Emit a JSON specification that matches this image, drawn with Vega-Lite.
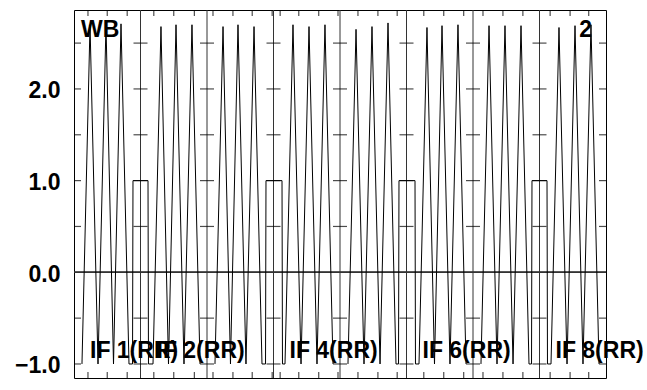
{
  "$schema": "https://vega.github.io/schema/vega-lite/v6.json",
  "width": 532,
  "height": 368,
  "autosize": "none",
  "padding": {"left": 74, "top": 10, "right": 41, "bottom": 12},
  "background": "white",
  "config": {"view": {"stroke": "black", "strokeWidth": 1}, "font": "Liberation Sans"},
  "resolve": {"axis": {"x": "independent", "y": "independent"}},
  "datasets": {
    "signal": [
      {"pair": 1, "u": 0.120, "v": -1}, {"pair": 1, "u": 0.241, "v": 2.70}, {"pair": 1, "u": 0.361, "v": -1}, {"pair": 1, "u": 0.481, "v": 2.70}, {"pair": 1, "u": 0.594, "v": -1}, {"pair": 1, "u": 0.707, "v": 2.71}, {"pair": 1, "u": 0.827, "v": -1}, {"pair": 1, "u": 0.880, "v": -1}, {"pair": 1, "u": 0.887, "v": 1}, {"pair": 1, "u": 1.113, "v": 1}, {"pair": 1, "u": 1.120, "v": -1}, {"pair": 1, "u": 1.188, "v": -1}, {"pair": 1, "u": 1.308, "v": 2.68}, {"pair": 1, "u": 1.421, "v": -1}, {"pair": 1, "u": 1.534, "v": 2.70}, {"pair": 1, "u": 1.654, "v": -1}, {"pair": 1, "u": 1.774, "v": 2.70}, {"pair": 1, "u": 1.895, "v": -1},
      {"pair": 2, "u": 2.120, "v": -1}, {"pair": 2, "u": 2.241, "v": 2.68}, {"pair": 2, "u": 2.353, "v": -1}, {"pair": 2, "u": 2.466, "v": 2.70}, {"pair": 2, "u": 2.586, "v": -1}, {"pair": 2, "u": 2.707, "v": 2.68}, {"pair": 2, "u": 2.827, "v": -1}, {"pair": 2, "u": 2.880, "v": -1}, {"pair": 2, "u": 2.887, "v": 1}, {"pair": 2, "u": 3.128, "v": 1}, {"pair": 2, "u": 3.135, "v": -1}, {"pair": 2, "u": 3.173, "v": -1}, {"pair": 2, "u": 3.293, "v": 2.70}, {"pair": 2, "u": 3.414, "v": -1}, {"pair": 2, "u": 3.534, "v": 2.68}, {"pair": 2, "u": 3.654, "v": -1}, {"pair": 2, "u": 3.774, "v": 2.70}, {"pair": 2, "u": 3.895, "v": -1},
      {"pair": 3, "u": 4.120, "v": -1}, {"pair": 3, "u": 4.241, "v": 2.65}, {"pair": 3, "u": 4.361, "v": -1}, {"pair": 3, "u": 4.481, "v": 2.68}, {"pair": 3, "u": 4.602, "v": -1}, {"pair": 3, "u": 4.722, "v": 2.72}, {"pair": 3, "u": 4.842, "v": -1}, {"pair": 3, "u": 4.880, "v": -1}, {"pair": 3, "u": 4.887, "v": 1}, {"pair": 3, "u": 5.128, "v": 1}, {"pair": 3, "u": 5.135, "v": -1}, {"pair": 3, "u": 5.188, "v": -1}, {"pair": 3, "u": 5.308, "v": 2.67}, {"pair": 3, "u": 5.421, "v": -1}, {"pair": 3, "u": 5.534, "v": 2.69}, {"pair": 3, "u": 5.654, "v": -1}, {"pair": 3, "u": 5.774, "v": 2.70}, {"pair": 3, "u": 5.895, "v": -1},
      {"pair": 4, "u": 6.120, "v": -1}, {"pair": 4, "u": 6.241, "v": 2.69}, {"pair": 4, "u": 6.361, "v": -1}, {"pair": 4, "u": 6.481, "v": 2.69}, {"pair": 4, "u": 6.602, "v": -1}, {"pair": 4, "u": 6.722, "v": 2.69}, {"pair": 4, "u": 6.842, "v": -1}, {"pair": 4, "u": 6.880, "v": -1}, {"pair": 4, "u": 6.887, "v": 1}, {"pair": 4, "u": 7.113, "v": 1}, {"pair": 4, "u": 7.120, "v": -1}, {"pair": 4, "u": 7.173, "v": -1}, {"pair": 4, "u": 7.293, "v": 2.67}, {"pair": 4, "u": 7.414, "v": -1}, {"pair": 4, "u": 7.534, "v": 2.69}, {"pair": 4, "u": 7.654, "v": -1}, {"pair": 4, "u": 7.774, "v": 2.70}, {"pair": 4, "u": 7.895, "v": -1}
    ],
    "grid": [{"gx": 1}, {"gx": 2}, {"gx": 3}, {"gx": 4}, {"gx": 5}, {"gx": 6}, {"gx": 7}],
    "grat": [
      {"gx": 0, "gy": [-1, -0.5, 0.5, 1, 1.5, 2, 2.5]},
      {"gx": 1, "gy": [-1, -0.5, 0.5, 1, 1.5, 2, 2.5]},
      {"gx": 2, "gy": [-1, -0.5, 0.5, 1, 1.5, 2, 2.5]},
      {"gx": 3, "gy": [-1, -0.5, 0.5, 1, 1.5, 2, 2.5]},
      {"gx": 4, "gy": [-1, -0.5, 0.5, 1, 1.5, 2, 2.5]},
      {"gx": 5, "gy": [-1, -0.5, 0.5, 1, 1.5, 2, 2.5]},
      {"gx": 6, "gy": [-1, -0.5, 0.5, 1, 1.5, 2, 2.5]},
      {"gx": 7, "gy": [-1, -0.5, 0.5, 1, 1.5, 2, 2.5]},
      {"gx": 8, "gy": [-1, -0.5, 0.5, 1, 1.5, 2, 2.5]}
    ],
    "ticks": [
      {"t": 0.21}, {"t": 0.50}, {"t": 0.80}, {"t": 1.20}, {"t": 1.50}, {"t": 1.81}, {"t": 2.09}, {"t": 2.39}, {"t": 2.68}, {"t": 2.98}, {"t": 3.10}, {"t": 3.38}, {"t": 3.68}, {"t": 3.97}, {"t": 4.27}, {"t": 4.57}, {"t": 4.86}, {"t": 5.26}, {"t": 5.56}, {"t": 5.86}, {"t": 6.15}, {"t": 6.45}, {"t": 6.75}, {"t": 7.16}, {"t": 7.46}, {"t": 7.74}
    ],
    "labels": [
      {"lab": "IF 1(RR)", "div": 0}, {"lab": "IF 2(RR)", "div": 1}, {"lab": "IF 4(RR)", "div": 3}, {"lab": "IF 6(RR)", "div": 5}, {"lab": "IF 8(RR)", "div": 7}
    ]
  },
  "layer": [
    {
      "data": {"name": "grid"},
      "mark": {"type": "rule", "color": "#333333", "strokeWidth": 1},
      "encoding": {
        "x": {"field": "gx", "type": "quantitative", "scale": {"domain": [0, 8], "nice": false, "zero": false}, "axis": null}
      }
    },
    {
      "data": {"name": "grid"},
      "mark": {"type": "rule", "color": "#333333", "strokeWidth": 1},
      "encoding": {
        "y": {"datum": 0, "type": "quantitative", "scale": {"domain": [-1.153, 2.861], "nice": false, "zero": false}, "axis": null}
      }
    },
    {
      "data": {"name": "grat"},
      "transform": [{"flatten": ["gy"]}],
      "mark": {"type": "tick", "orient": "horizontal", "size": 14, "thickness": 1.2, "color": "black", "clip": true},
      "encoding": {
        "x": {"field": "gx", "type": "quantitative", "axis": null},
        "y": {"field": "gy", "type": "quantitative", "axis": null}
      }
    },
    {
      "data": {"name": "ticks"},
      "mark": {"type": "tick", "orient": "vertical", "size": 12, "thickness": 1.2, "color": "black", "clip": true},
      "encoding": {
        "x": {"field": "t", "type": "quantitative", "axis": null},
        "y": {"datum": 2.861, "type": "quantitative", "axis": null}
      }
    },
    {
      "data": {"name": "ticks"},
      "mark": {"type": "tick", "orient": "vertical", "size": 12, "thickness": 1.2, "color": "black", "clip": true},
      "encoding": {
        "x": {"field": "t", "type": "quantitative", "axis": null},
        "y": {"datum": -1.153, "type": "quantitative", "axis": null}
      }
    },
    {
      "data": {"name": "signal"},
      "mark": {"type": "line", "color": "black", "strokeWidth": 1, "clip": true},
      "encoding": {
        "x": {"field": "u", "type": "quantitative", "axis": null},
        "y": {"field": "v", "type": "quantitative", "axis": {"values": [-1, 0, 1, 2], "format": ".1f", "title": null, "domain": false, "ticks": false, "tickSize": 0, "grid": false, "labelPadding": 14, "labelFont": "Liberation Sans", "labelFontWeight": "bold", "labelFontSize": 23, "labelColor": "black", "labelOffset": 2}},
        "detail": {"field": "pair", "type": "nominal"}
      }
    },
    {
      "data": {"name": "labels"},
      "mark": {"type": "text", "align": "left", "baseline": "alphabetic", "dx": 16, "font": "Liberation Sans", "fontWeight": "bold", "fontSize": 23, "color": "black"},
      "encoding": {
        "x": {"field": "div", "type": "quantitative", "axis": null},
        "y": {"datum": -0.93, "type": "quantitative", "axis": null},
        "text": {"field": "lab"}
      }
    },
    {
      "data": {"values": [{"lab": "WB"}]},
      "mark": {"type": "text", "align": "left", "baseline": "alphabetic", "dx": 7, "font": "Liberation Sans", "fontWeight": "bold", "fontSize": 23, "color": "black"},
      "encoding": {
        "x": {"datum": 0, "type": "quantitative", "axis": null},
        "y": {"datum": 2.57, "type": "quantitative", "axis": null},
        "text": {"field": "lab"}
      }
    },
    {
      "data": {"values": [{"lab": "2"}]},
      "mark": {"type": "text", "align": "right", "baseline": "alphabetic", "dx": -14, "font": "Liberation Sans", "fontWeight": "bold", "fontSize": 23, "color": "black"},
      "encoding": {
        "x": {"datum": 8, "type": "quantitative", "axis": null},
        "y": {"datum": 2.57, "type": "quantitative", "axis": null},
        "text": {"field": "lab"}
      }
    }
  ]
}
